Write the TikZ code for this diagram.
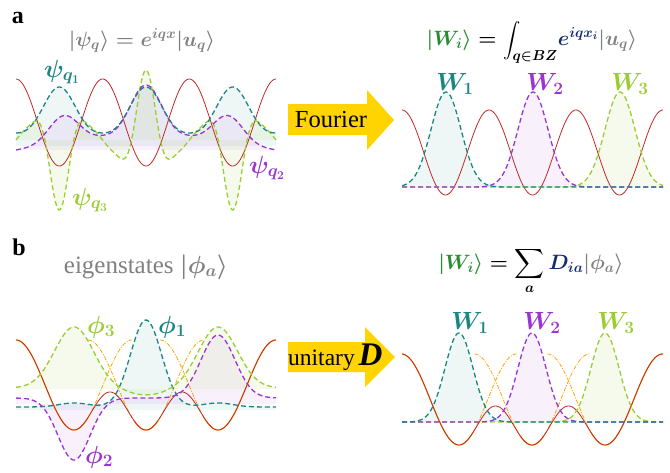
\documentclass[tikz,border=0pt]{standalone}
\usepackage{amsmath}
\usepackage{fontspec}
\setmainfont{Liberation Serif}
\definecolor{cteal}{RGB}{26,133,133}
\definecolor{cpurple}{RGB}{155,50,210}
\definecolor{cgreen}{RGB}{154,205,50}
\definecolor{cred}{RGB}{190,40,40}
\definecolor{corange}{RGB}{255,165,0}
\definecolor{cgray}{RGB}{128,128,128}
\definecolor{wgreen}{RGB}{40,140,50}
\definecolor{cnavy}{RGB}{20,45,110}
\definecolor{cyellow}{RGB}{255,212,0}
\tikzset{
  redline/.style={line width=0.8pt, cred},
  orline/.style={line width=1.2pt, corange},
  dwave/.style={line width=1.3pt, dash pattern=on 5pt off 3pt},
  ddot/.style={line width=0.8pt, corange, dash pattern=on 4pt off 1.5pt on 1pt off 1.5pt},
  wlab/.style={inner sep=0pt, font=\fontsize{25}{28}\selectfont\boldmath},
  plab/.style={inner sep=0pt, font=\fontsize{23}{25}\selectfont\boldmath},
  ttl/.style={inner sep=0pt, anchor=base, font=\fontsize{22}{25}\selectfont\boldmath},
  ttlb/.style={inner sep=0pt, anchor=base, font=\fontsize{25}{28}\selectfont\boldmath},
  panel/.style={inner sep=0pt, font=\fontsize{24}{26}\selectfont\bfseries},
  arrowfill/.style={fill=cyellow, draw=none},
  fillt/.style={fill=cteal, fill opacity=0.07},
  fillp/.style={fill=cpurple, fill opacity=0.07},
  fillg/.style={fill=cgreen, fill opacity=0.09},
}
\begin{document}
\begin{tikzpicture}[x=1pt, y=-1pt,
  declare function={
    gs(\t)=exp(-min(\t*\t/2,9));
    sA(\x)=(1+cos(4.1537*(\x-59.33)))/2;
    sB(\x)=(1+cos(4.1537*(\x-146)))/2;
    tlred(\x)=122.5-43.5*cos(4.1537*(\x-16));
    tlteal(\x)=133-46*(0.4*sA(\x)+0.6*sA(\x)*sA(\x));
    tlpur(\x)=150-cos(0.6923*(\x-146))*(17+48*(0.4*sB(\x)+0.6*sB(\x)*sB(\x)));
    tlgrn(\x)=140-cos(6.2305*(\x-146))*(12+58*sB(\x)*sB(\x));
    trred(\x)=152.5-42.5*cos(4.1379*(\x-402));
    trw(\x,\c)=187-95*gs((\x-\c)/15);
    blwell(\x,\c)=385+45*cos(3.1034*(\x-\c));
    blmid(\x)=411-19*cos(5*(\x-110));
    blteal(\x)=407-87*gs((\x-146)/15.5)-4*gs((\x-74)/15)-4*gs((\x-218)/15);
    blpur(\x)=398+62*gs((\x-74)/16)-63*gs((\x-218)/17);
    blgrn(\x)=388-61*gs((\x-74)/19.5)-61*gs((\x-218)/19.5)+7*gs((\x-146)/20);
    brwell(\x,\c)=399.5+45.5*cos(3.1304*(\x-\c));
    brmid(\x)=425.5-19.5*cos(4.9315*(\x-495.5));
    brw(\x,\c)=422-89*gs((\x-\c)/14);
  }]
\useasboundingbox (0,0) rectangle (670,472);

% ---------------- panel a, left ----------------
\node[panel] (pa) at (18,18) {a};
\node[ttl, text=cgray] (tla) at (142,46) {$|\psi_q\rangle = e^{iqx}|u_q\rangle$};

\fill[fillt] plot[domain=16:276, samples=160] (\x,{tlteal(\x)}) -- (276,146) -- (16,146) -- cycle;
\fill[fillp] plot[domain=16:276, samples=160] (\x,{tlpur(\x)}) -- (276,150) -- (16,150) -- cycle;
\fill[fillg] plot[domain=16:276, samples=200] (\x,{tlgrn(\x)}) -- (276,140) -- (16,140) -- cycle;
\draw[redline] plot[domain=16:276, samples=200] (\x,{tlred(\x)});
\draw[dwave, cgreen] plot[domain=16:276, samples=200] (\x,{tlgrn(\x)});
\draw[dwave, cpurple] plot[domain=16:276, samples=160] (\x,{tlpur(\x)});
\draw[dwave, cteal] plot[domain=16:276, samples=160] (\x,{tlteal(\x)});
\node[plab, text=cteal] (lq1) at (62,72) {$\psi_{q_1}$};
\node[plab, text=cpurple] (lq2) at (267,168) {$\psi_{q_2}$};
\node[plab, text=cgreen] (lq3) at (90,200) {$\psi_{q_3}$};

% ---------------- Fourier arrow ----------------
\fill[arrowfill] (288,104) -- (367,104) -- (367,90) -- (394,120) -- (367,150) -- (367,135) -- (288,135) -- cycle;
\node[inner sep=0pt, font=\fontsize{24.5}{26}\selectfont] (four) at (331,120) {Fourier};

% ---------------- panel a, right ----------------
\node[ttl] (tra) at (532,45) {$\color{wgreen}|W_i\rangle \color{black}= \mbox{\fontsize{19}{20}\selectfont$\displaystyle\int_{q\in BZ}$}\color{cnavy} e^{iqx_i}\color{cgray}|u_q\rangle$};
\fill[fillt] plot[domain=402:663, samples=200] (\x,{trw(\x,446)}) -- (663,187) -- (402,187) -- cycle;
\fill[fillp] plot[domain=402:663, samples=200] (\x,{trw(\x,533)}) -- (663,187) -- (402,187) -- cycle;
\fill[fillg] plot[domain=402:663, samples=200] (\x,{trw(\x,620)}) -- (663,187) -- (402,187) -- cycle;
\draw[redline] plot[domain=402:663, samples=200] (\x,{trred(\x)});
\draw[dwave, cgreen] plot[domain=402:663, samples=200] (\x,{trw(\x,620)});
\draw[dwave, cpurple] plot[domain=402:663, samples=200] (\x,{trw(\x,533)});
\draw[dwave, cteal] plot[domain=402:663, samples=200] (\x,{trw(\x,446)});
\node[wlab, text=cteal] (w1a) at (455,84) {$W_1$};
\node[wlab, text=cpurple] (w2a) at (545,84) {$W_2$};
\node[wlab, text=cgreen] (w3a) at (630,84) {$W_3$};

% ---------------- panel b, left ----------------
\node[panel] (pb) at (19,247) {b};
\node[ttlb, text=cgray] (tlb) at (146,273) {eigenstates $|\phi_a\rangle$};

\fill[fillt] plot[domain=16:276, samples=160] (\x,{blteal(\x)}) -- (276,410) -- (16,410) -- cycle;
\fill[fillp] plot[domain=16:276, samples=160] (\x,{blpur(\x)}) -- (276,404) -- (16,404) -- cycle;
\fill[fillg] plot[domain=16:276, samples=160] (\x,{blgrn(\x)}) -- (276,389) -- (16,389) -- cycle;
\draw[ddot] plot[domain=88:132, samples=60] (\x,{blwell(\x,74)});
\draw[ddot] plot[domain=88:204, samples=80] (\x,{blwell(\x,146)});
\draw[ddot] plot[domain=160:204, samples=60] (\x,{blwell(\x,218)});
\draw[orline] plot[domain=16:88, samples=60] (\x,{blwell(\x,74)});
\draw[orline] plot[domain=134:158, samples=30] (\x,{blwell(\x,146)});
\draw[orline] plot[domain=204:276, samples=60] (\x,{blwell(\x,218)});
\draw[redline] plot[domain=16:74, samples=50] (\x,{blwell(\x,74)})
  -- plot[domain=74:218, samples=120] (\x,{blmid(\x)})
  -- plot[domain=218:276, samples=50] (\x,{blwell(\x,218)});
\draw[dwave, cteal] plot[domain=16:276, samples=160] (\x,{blteal(\x)});
\draw[dwave, cpurple] plot[domain=16:276, samples=160] (\x,{blpur(\x)});
\draw[dwave, cgreen] plot[domain=16:276, samples=160] (\x,{blgrn(\x)});
\node[wlab, text=cgreen] (f3) at (101,327) {$\phi_3$};
\node[wlab, text=cteal] (f1) at (172,327) {$\phi_1$};
\node[wlab, text=cpurple] (f2) at (99,457) {$\phi_2$};

% ---------------- unitary arrow ----------------
\fill[arrowfill] (288,342) -- (365,342) -- (365,327) -- (395,357) -- (365,387) -- (365,372) -- (288,372) -- cycle;
\node[inner sep=0pt, anchor=west, font=\fontsize{23.5}{26}\selectfont] (unit) at (288,357) {unitary\,{\fontsize{33}{34}\selectfont\bfseries\itshape D}};

% ---------------- panel b, right ----------------
\node[ttl] (trb) at (531,269) {$\color{wgreen}|W_i\rangle \color{black}= \displaystyle\sum_a \color{cnavy}D_{ia}\color{cgray}|\phi_a\rangle$};
\fill[fillt] plot[domain=402:663, samples=200] (\x,{brw(\x,459)}) -- (663,422) -- (402,422) -- cycle;
\fill[fillp] plot[domain=402:663, samples=200] (\x,{brw(\x,532)}) -- (663,422) -- (402,422) -- cycle;
\fill[fillg] plot[domain=402:663, samples=200] (\x,{brw(\x,605)}) -- (663,422) -- (402,422) -- cycle;
\draw[ddot] plot[domain=473:516.5, samples=60] (\x,{brwell(\x,459)});
\draw[ddot] plot[domain=474.5:589.5, samples=80] (\x,{brwell(\x,532)});
\draw[ddot] plot[domain=547.5:591, samples=60] (\x,{brwell(\x,605)});
\draw[orline] plot[domain=402:473, samples=60] (\x,{brwell(\x,459)});
\draw[orline] plot[domain=520:544, samples=30] (\x,{brwell(\x,532)});
\draw[orline] plot[domain=591:663, samples=60] (\x,{brwell(\x,605)});
\draw[redline] plot[domain=402:459, samples=50] (\x,{brwell(\x,459)})
  -- plot[domain=459:605, samples=120] (\x,{brmid(\x)})
  -- plot[domain=605:663, samples=50] (\x,{brwell(\x,605)});
\draw[dwave, cgreen] plot[domain=402:663, samples=200] (\x,{brw(\x,605)});
\draw[dwave, cpurple] plot[domain=402:663, samples=200] (\x,{brw(\x,532)});
\draw[dwave, cteal] plot[domain=402:663, samples=200] (\x,{brw(\x,459)});
\node[wlab, text=cteal] (w1b) at (470,323) {$W_1$};
\node[wlab, text=cpurple] (w2b) at (542,323) {$W_2$};
\node[wlab, text=cgreen] (w3b) at (616,323) {$W_3$};
\end{tikzpicture}
\end{document}
